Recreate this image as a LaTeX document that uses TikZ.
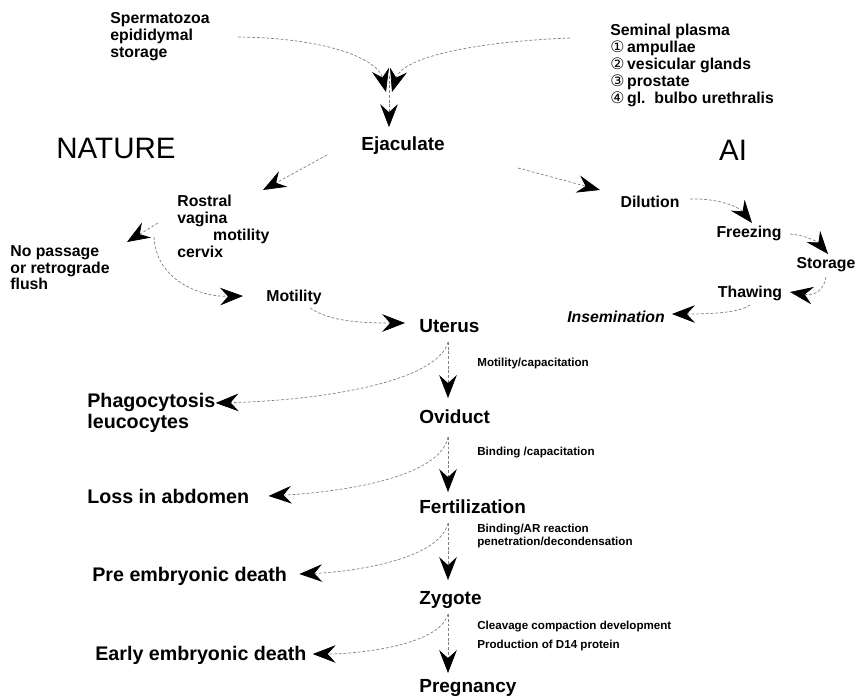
\documentclass[tikz,border=0pt]{standalone}
\usepackage{fontspec}
\setmainfont{Liberation Sans}
\newfontfamily\symfont{DejaVu Sans}
\usetikzlibrary{arrows.meta, calc, positioning}
\tikzset{
    stage/.style={
        anchor=base west, inner sep=0pt, font=\fontsize{10.8}{13}\selectfont\bfseries
    },
    outcome/.style={
        anchor=base west, inner sep=0pt, font=\fontsize{11.2}{13}\selectfont\bfseries
    },
    heading/.style={
        inner sep=0pt, font=\fontsize{16.8}{20}\selectfont
    },
    source/.style={
        anchor=north west, inner sep=0pt, align=left, font=\fontsize{9}{9.6}\selectfont\bfseries
    },
    treat/.style={
        inner sep=0pt, font=\fontsize{9}{11}\selectfont\bfseries
    },
    note/.style={
        anchor=west, inner sep=0pt, align=left, font=\fontsize{6.6}{7.4}\selectfont\bfseries
    },
    flow/.style={
        draw=black!50, line width=0.4pt, dash pattern=on 1.6pt off 1.1pt,
        -{Stealth[color=black, length=13pt, width=10pt, inset=4.5pt]}
    }
}
\newcommand{\circnum}[1]{{\symfont\mdseries #1}\,}

\begin{document}
\begin{tikzpicture}[x=0.02cm, y=-0.02cm]
    \useasboundingbox (0,0) rectangle (857,697);
    % sources and headings
    \node[source] (sperm) at (110,12) {Spermatozoa\\epididymal\\storage};
    \node[source] (plasma) at (610,24) {Seminal plasma\\\circnum{①}ampullae\\\circnum{②}vesicular glands\\\circnum{③}prostate\\\circnum{④}gl.\ \ bulbo urethralis};
    \node[heading] (nature) at (116,148) {NATURE};
    \node[heading] (ai) at (733,150) {AI};
    \node[stage] (ejac) at (361,150) {Ejaculate};
    \coordinate (merge) at (389,92);

    % natural route
    \node[source] (rostral) at (177,195) {Rostral\\vagina\\\hspace*{20.4pt}motility\\cervix};
    \node[source] (nopass) at (10,245) {No passage\\or retrograde\\flush};
    \node[treat] (motil) at (294,297) {Motility};

    % main column
    \node[stage] (uterus) at (419,332) {Uterus};
    \node[stage] (oviduct) at (419,423) {Oviduct};
    \node[stage] (fert) at (419,513) {Fertilization};
    \node[stage] (zygote) at (419,604) {Zygote};
    \node[stage] (preg) at (419,692) {Pregnancy};
    \node[note] (n1) at (477,363) {Motility/capacitation};
    \node[note] (n2) at (477,453) {Binding /capacitation};
    \node[note, anchor=north west] (n3) at (477,524) {Binding/AR reaction\\penetration/decondensation};
    \node[note, anchor=north west, font=\fontsize{6.6}{10.8}\selectfont\bfseries] (n4) at (477,621) {Cleavage compaction development\\Production of D14 protein};

    % losses
    \node[outcome] (phago) at (87,407) {Phagocytosis};
    \node[outcome] (leuco) at (87,428) {leucocytes};
    \node[outcome] (loss) at (87,503) {Loss in abdomen};
    \node[outcome] (preemb) at (92,581) {Pre embryonic death};
    \node[outcome] (early) at (95,660) {Early embryonic death};

    % AI route
    \node[treat] (dil) at (650,202) {Dilution};
    \node[treat] (freeze) at (749,233) {Freezing};
    \node[treat] (store) at (826,265) {Storage};
    \node[treat] (thaw) at (750,293) {Thawing};
    \node[treat, font=\fontsize{9}{11}\selectfont\bfseries\itshape] (insem) at (616,317) {Insemination};

    % connectors
    \draw[flow] ($(sperm.north east)+(28,25)$) .. controls (330,38) and (378,60) .. ($(merge)+(-3,0)$);
    \draw[flow] ($(plasma.north west)+(-40,14)$) .. controls (470,42) and (402,58) .. ($(merge)+(3,0)$);
    \draw[flow, shorten >=5pt] ($(merge)+(0,-16)$) -- (merge |- ejac.north);
    \draw[flow] ($(ejac.base west)+(-34,5)$) -- ($(rostral.north west)+(86,-5)$);
    \draw[flow] ($(ejac.base west)+(157,18)$) -- ($(dil)+(-50,-12)$);
    \draw[flow] ($(rostral.north west)+(-19,28)$) -- ($(nopass.north east)+(17,-3)$);
    \draw[flow] ($(rostral.north west)+(-23,42)$) .. controls +(2,43) and +(-43,1) .. ($(motil.west)+(-23,-1)$);
    \draw[flow] ($(motil)+(16,11)$) .. controls +(20,14) and +(-40,0) .. ($(uterus.base west)+(-14,-9)$);

    \draw[flow] ($(uterus.base west)+(29,10)$) -- ($(oviduct.base west)+(29,-25)$);
    \draw[flow] ($(oviduct.base west)+(29,14)$) -- ($(fert.base west)+(29,-21)$);
    \draw[flow] ($(fert.base west)+(29,10)$) -- ($(zygote.base west)+(29,-24)$);
    \draw[flow] ($(zygote.base west)+(29,10)$) -- ($(preg.base west)+(29,-19)$);

    \draw[flow] ($(uterus.base west)+(29,10)$) .. controls +(-10,38) and +(115,-3) .. ($(phago.base east)+(0,-4)$);
    \draw[flow] ($(oviduct.base west)+(29,14)$) .. controls +(-8,41) and +(72,-4) .. ($(loss.base east)+(19,-7)$);
    \draw[flow] ($(fert.base west)+(29,10)$) .. controls +(-8,37) and +(51,-2) .. ($(preemb.base east)+(12,-7)$);
    \draw[flow] ($(zygote.base west)+(29,10)$) .. controls +(-8,31) and +(47,0) .. ($(early.base east)+(6,-6)$);

    \draw[flow] ($(dil)+(40,-3)$) .. controls +(30,-1) and +(-12,-15) .. ($(freeze)+(3,-10)$);
    \draw[flow] ($(freeze)+(41,1)$) .. controls +(15,1) and +(-10,-12) .. ($(store)+(2,-11)$);
    \draw[flow] ($(store)+(0,12)$) .. controls +(-2,13) and +(25,4) .. ($(thaw)+(40,-1)$);
    \draw[flow] ($(thaw)+(0,12)$) .. controls +(-10,7) and +(45,0) .. ($(insem)+(56,-3)$);
\end{tikzpicture}
\end{document}
